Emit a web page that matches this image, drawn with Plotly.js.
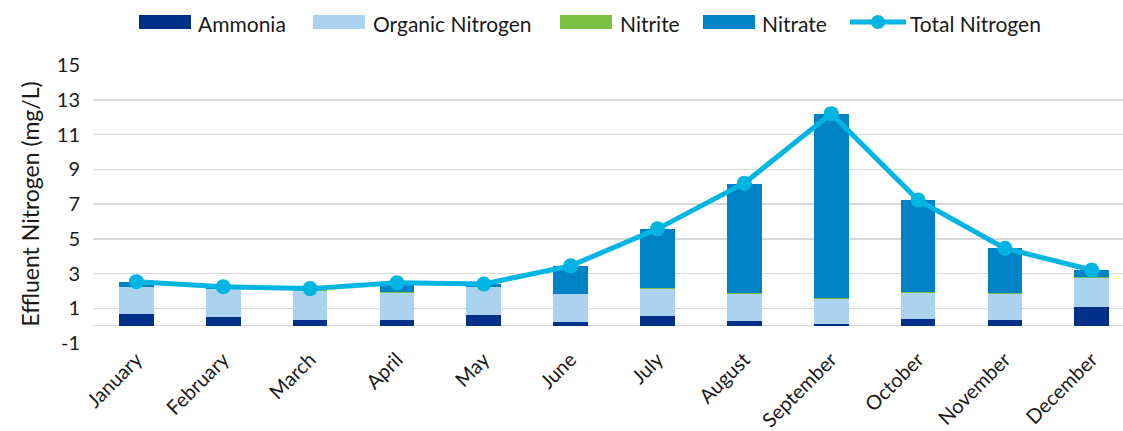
<!DOCTYPE html>
<html>
<head>
<meta charset="utf-8">
<script src="https://cdn.plot.ly/plotly-3.0.1.min.js"></script>
<style>
html,body{margin:0;padding:0;background:#fff;overflow:hidden;}
#chart{width:1123px;height:431px;}
</style>
</head>
<body>
<div id="chart"></div>
<script>
// ---- Data ----
const months = ["January","February","March","April","May","June","July","August","September","October","November","December"];
const ammonia = [0.65, 0.48, 0.32, 0.32, 0.61, 0.22, 0.55, 0.26, 0.07, 0.38, 0.32, 1.07];
const organicNitrogen = [1.55, 1.60, 1.67, 1.55, 1.60, 1.58, 1.58, 1.54, 1.46, 1.48, 1.48, 1.69];
const nitrite = [0.05, 0.03, 0.04, 0.05, 0.04, 0.04, 0.04, 0.07, 0.07, 0.06, 0.06, 0.04];
const nitrate = [0.27, 0.13, 0.10, 0.53, 0.13, 1.60, 3.40, 6.30, 10.60, 5.33, 2.59, 0.38];
const totalNitrogen = [2.53, 2.24, 2.13, 2.47, 2.40, 3.44, 5.57, 8.20, 12.20, 7.23, 4.45, 3.20];
const seriesNames = ["Ammonia","Organic Nitrogen","Nitrite","Nitrate","Total Nitrogen"];
const yTicks = [-1, 1, 3, 5, 7, 9, 11, 13, 15];

// ---- Style ----
const colors = {
  "Ammonia": "#003087",
  "Organic Nitrogen": "#ABD3F0",
  "Nitrite": "#7DC142",
  "Nitrate": "#0082C6",
  "Total Nitrogen": "#00B5E2"
};
const FONT = "Lato, 'Open Sans', sans-serif";
const TXT = "#1a1a1a";
const W = 1123, H = 431;
const M = {l: 93, r: 0, t: 65, b: 88};
const plotW = W - M.l - M.r, plotH = H - M.t - M.b;
const px2x = px => (px - M.l) / plotW;
const py2y = py => 1 - (py - M.t) / plotH;

const barSeries = [["Ammonia", ammonia], ["Organic Nitrogen", organicNitrogen], ["Nitrite", nitrite], ["Nitrate", nitrate]];
const traces = barSeries.map(([name, vals]) => ({
  type: "bar", name: name, x: months, y: vals,
  marker: {color: colors[name], line: {width: 0}},
  showlegend: false, hoverinfo: "name+y"
}));
traces.push({
  type: "scatter", mode: "lines+markers", name: "Total Nitrogen",
  x: months, y: totalNitrogen,
  line: {color: colors["Total Nitrogen"], width: 5},
  marker: {color: colors["Total Nitrogen"], size: 15},
  showlegend: false
});

// ---- Manual legend (matches the wide swatches of the reference) ----
const legendItems = [
  {name: seriesNames[0], sx: 139, tx: 196},
  {name: seriesNames[1], sx: 313, tx: 371},
  {name: seriesNames[2], sx: 560, tx: 618},
  {name: seriesNames[3], sx: 703, tx: 760},
  {name: seriesNames[4], sx: 850, tx: 908, line: true}
];
const legY = 22;
const shapes = [];
const annotations = [];
legendItems.forEach(it => {
  if (it.line) {
    shapes.push({type: "line", xref: "paper", yref: "paper",
      x0: px2x(it.sx), x1: px2x(it.sx + 56), y0: py2y(legY), y1: py2y(legY),
      line: {color: colors[it.name], width: 5}});
    shapes.push({type: "circle", xref: "paper", yref: "paper",
      x0: px2x(it.sx + 28 - 7), x1: px2x(it.sx + 28 + 7), y0: py2y(legY - 7), y1: py2y(legY + 7),
      fillcolor: colors[it.name], line: {width: 0}});
  } else {
    shapes.push({type: "rect", xref: "paper", yref: "paper",
      x0: px2x(it.sx), x1: px2x(it.sx + 52), y0: py2y(legY - 7), y1: py2y(legY + 7),
      fillcolor: colors[it.name], line: {width: 0}});
  }
  annotations.push({xref: "paper", yref: "paper", x: px2x(it.tx), y: py2y(legY + 1),
    xanchor: "left", yanchor: "middle", showarrow: false, text: it.name,
    font: {family: FONT, size: 21, color: TXT}});
});

const layout = {
  width: W, height: H,
  margin: M,
  paper_bgcolor: "#fff", plot_bgcolor: "#fff",
  barmode: "stack", bargap: 0.6,
  font: {family: FONT, color: TXT},
  xaxis: {
    type: "category", range: [-0.5, 11.36],
    tickangle: -45, tickfont: {family: FONT, size: 20, color: TXT},
    showgrid: false, showline: false, ticks: "", fixedrange: true
  },
  yaxis: {
    range: [-1, 15], tickvals: yTicks, ticktext: yTicks.map(String),
    tickfont: {family: FONT, size: 20, color: TXT},
    showgrid: true, gridcolor: "#D9D9D9", gridwidth: 1.5,
    zeroline: true, zerolinecolor: "#D9D9D9", zerolinewidth: 1.5,
    showline: false, ticks: "", ticklen: 0, ticklabelstandoff: 12,
    title: {text: "Effluent Nitrogen (mg/L)", font: {family: FONT, size: 23, color: TXT}, standoff: 10}
  },
  shapes: shapes,
  annotations: annotations,
  showlegend: false
};

Plotly.newPlot("chart", traces, layout, {displayModeBar: false, staticPlot: true});
</script>
</body>
</html>
